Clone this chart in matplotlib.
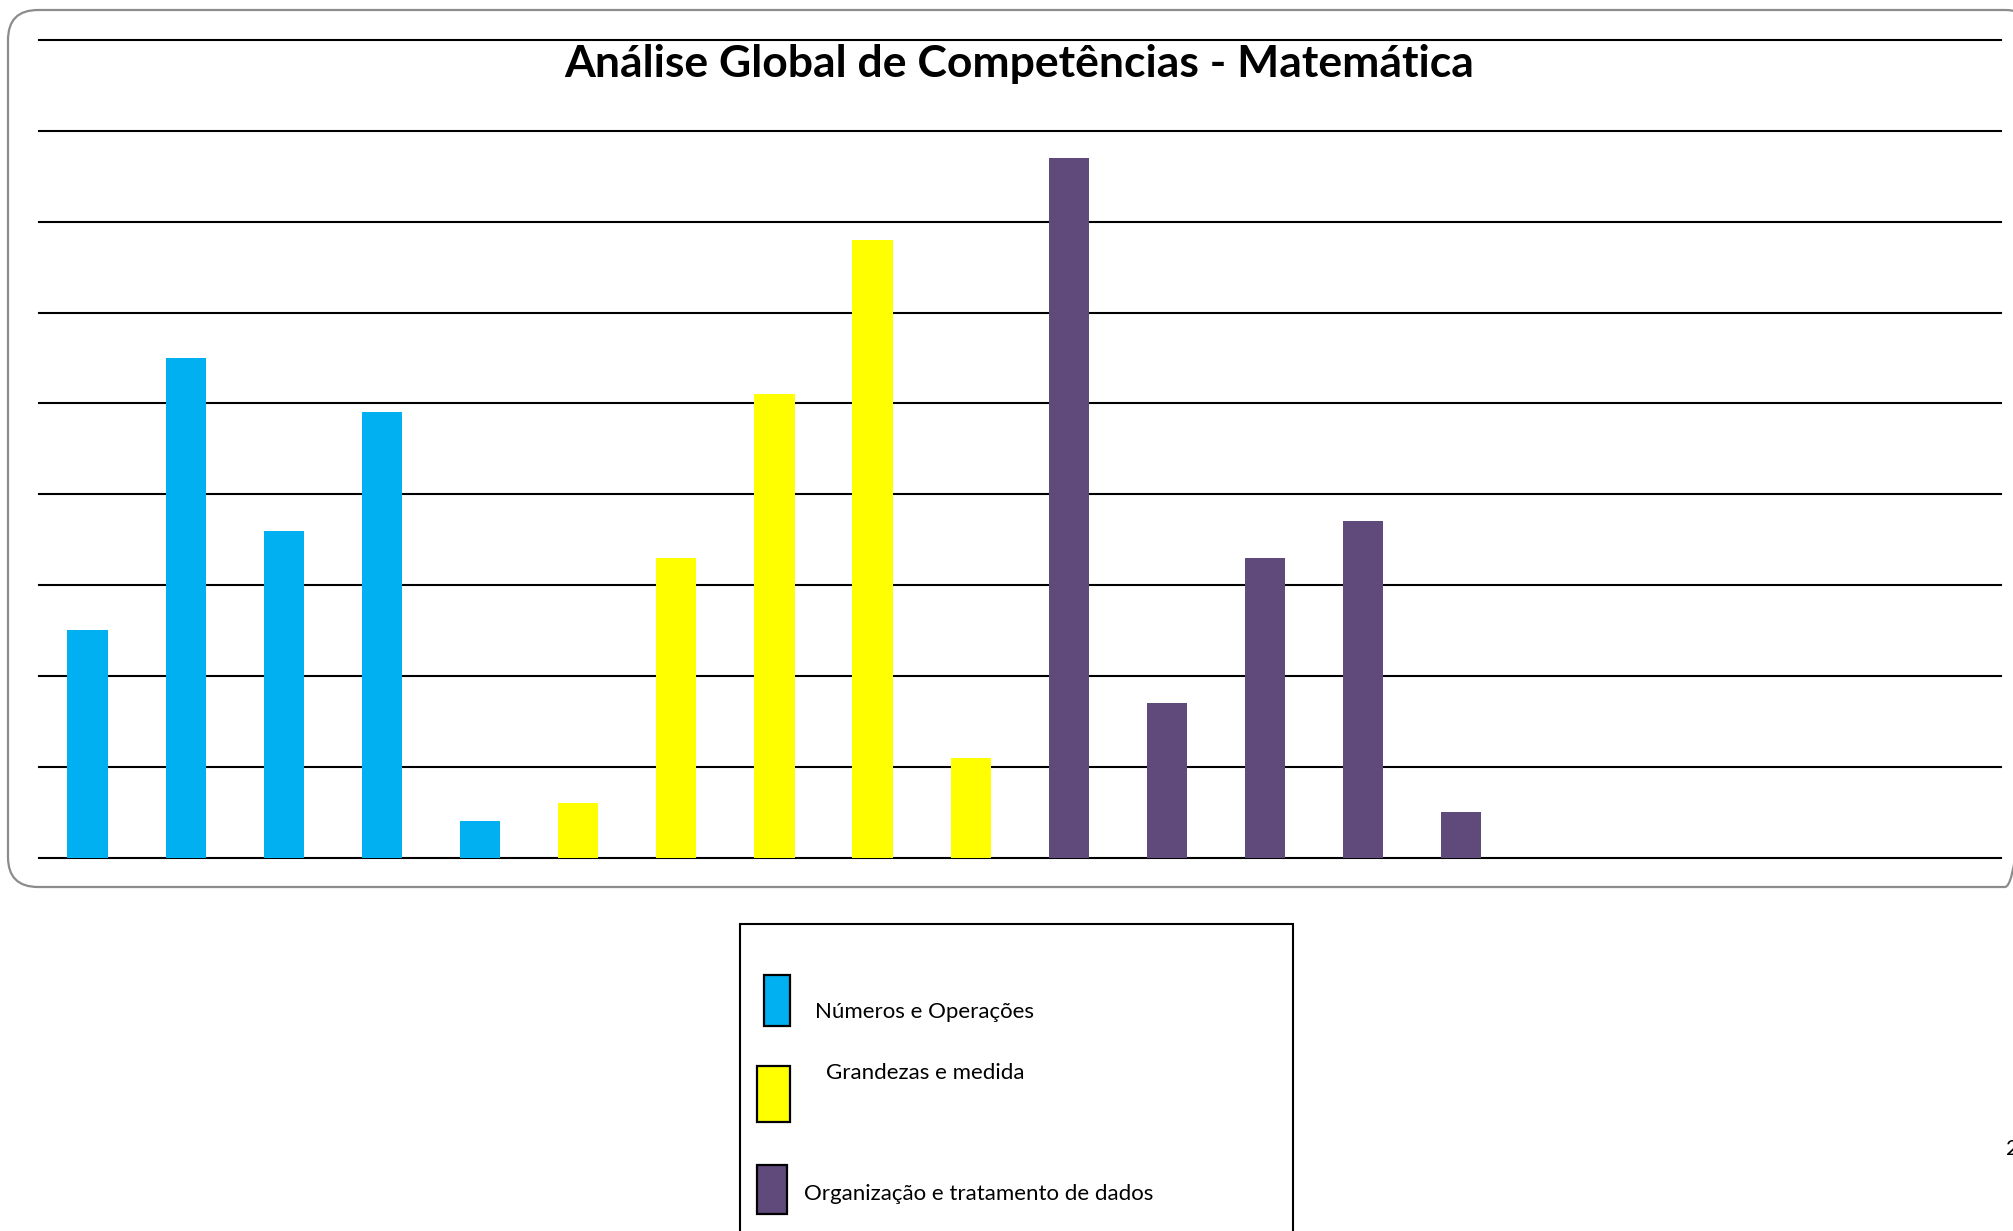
import numpy as np
import matplotlib
matplotlib.use('Agg')
import matplotlib.pyplot as plt
from matplotlib.patches import FancyBboxPatch, Rectangle

# values (gridline step = 10)
numeros = [25, 55, 36, 49, 4]
grandezas = [6, 33, 51, 68, 11]
organizacao = [77, 17, 33, 37, 5]
n_slots = 20

series_names = ['Números e Operações', 'Grandezas e medida', 'Organização e tratamento de dados']
colors = ['#00B0F0', '#FFFF00', '#604A7B']
title = 'Análise Global de Competências - Matemática'

plt.rcParams['font.family'] = ['Lato', 'DejaVu Sans']

W, H = 2013, 1231
fig = plt.figure(figsize=(W / 100, H / 100), dpi=100)

# overlay in pixel coordinates (y down) for the frame, title and legend
ov = fig.add_axes([0, 0, 1, 1], zorder=0)
ov.set_xlim(0, W)
ov.set_ylim(H, 0)
ov.axis('off')

# main bar axes
ax = fig.add_axes([38.5 / W, (H - 857.6) / H, (2001 - 38.5) / W, (857.6 - 40) / H], zorder=1)
ax.patch.set_visible(False)

values = numeros + grandezas + organizacao
bar_colors = [colors[0]] * len(numeros) + [colors[1]] * len(grandezas) + [colors[2]] * len(organizacao)
x = np.arange(len(values))
ax.bar(x, values, width=0.41, color=bar_colors, zorder=3)

for yv in range(0, 91, 10):
    ax.axhline(yv, color='black', lw=1.5, zorder=2, clip_on=False)

ax.set_xlim(-0.5, n_slots - 0.5)
ax.set_ylim(0, 90)
for s in ax.spines.values():
    s.set_visible(False)
ax.set_xticks([])
ax.set_yticks([])

# rounded frame around the chart (right side runs past the edge)
frame = FancyBboxPatch((8 + 30, 10 + 30), 2035 - 8 - 60, 887 - 10 - 60,
                       boxstyle='round,pad=30', fc='none', ec='#8c8c8c', lw=1.6)
ov.add_patch(frame)

ov.text(1019, 77, title, ha='center', va='baseline', fontsize=32, fontweight='bold')

# legend box
ov.add_patch(Rectangle((740, 924), 1293 - 740, 400, fc='white', ec='black', lw=1.5, zorder=1))
swatches = [(764, 975, 26, 51), (757, 1066, 33, 56), (757, 1165, 30, 49)]
text_pos = [(815, 1018), (826, 1079), (804, 1200)]
for (sx, sy, sw, sh), (tx, ty), name, c in zip(swatches, text_pos, series_names, colors):
    ov.add_patch(Rectangle((sx, sy), sw, sh, fc=c, ec='black', lw=1.6, zorder=2))
    ov.text(tx, ty, name, ha='left', va='baseline', fontsize=16, zorder=3)

# page number cut at the right edge
ov.text(2006, 1155, '2', ha='left', va='baseline', fontsize=16)

fig.savefig('out.png', dpi=100)
